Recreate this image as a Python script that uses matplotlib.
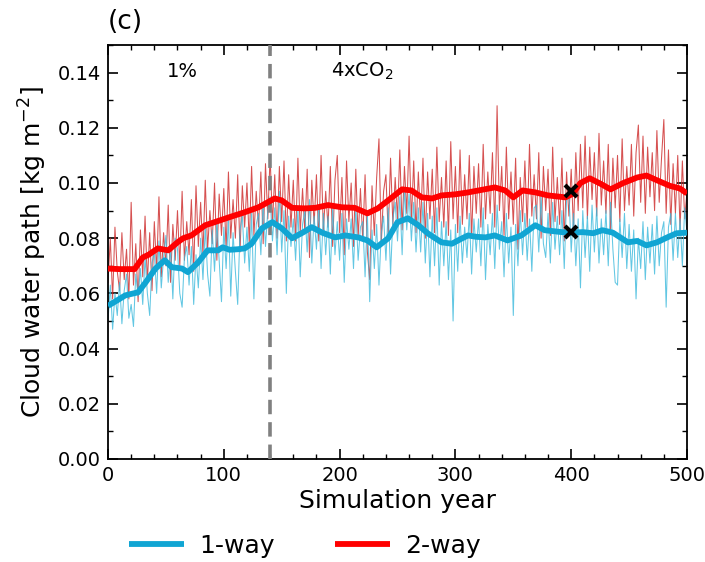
import numpy as np
import matplotlib
matplotlib.use("Agg")
import matplotlib.pyplot as plt
from matplotlib.ticker import MultipleLocator

# ---------------- data (cloud water path) ----------------
# annual values every 2 years, in g m^-2 (converted to kg m^-2 below)
years_annual = np.arange(0, 501, 2)

oneway_annual_g = [
    50, 63, 47, 60, 52,   64, 49, 61, 67, 51,   56, 48, 67, 59, 69,   56, 73, 60, 52, 71,
    75, 60, 79, 62, 73,   81, 64, 77, 58, 80,   76, 60, 55, 73, 77,   63, 77, 56, 74, 62,
    80, 65, 84, 67, 59,   83, 68, 86, 72, 57,   84, 69, 87, 59, 82,   68, 56, 83, 88, 71,
    84, 68, 89, 58, 85,   89, 74, 93, 77, 90,   95, 79, 91, 74, 97,   75, 90, 60, 88, 77,
    87, 72, 91, 66, 85,   90, 75, 94, 71, 88,   76, 92, 69, 89, 74,   88, 67, 91, 74, 86,
    72, 89, 64, 87, 76,   87, 69, 91, 72, 84,   86, 66, 89, 57, 83,   69, 85, 63, 82, 88,
    72, 91, 67, 87, 93,   79, 95, 74, 98, 83,   96, 79, 93, 75, 91,   75, 93, 71, 89, 66,
    88, 70, 91, 63, 86,   70, 86, 65, 83, 50,   85, 68, 88, 71, 84,   73, 89, 67, 87, 75,
    87, 70, 91, 65, 85,   74, 89, 69, 92, 76,   86, 66, 89, 71, 84,   52, 85, 70, 90, 74,
    89, 72, 87, 68, 91,   92, 75, 95, 78, 73,   89, 71, 93, 76, 88,   74, 90, 69, 94, 97,
    75, 89, 70, 87, 62,   90, 73, 88, 68, 92,   75, 91, 71, 87, 74,   90, 70, 93, 76, 64,
    63, 87, 73, 89, 69,   85, 68, 83, 58, 80,   69, 86, 65, 84, 71,   85, 67, 88, 70, 82,
    86, 55, 84, 89, 72,   89, 73, 87, 70, 91,   82,
]

twoway_annual_g = [
    64, 80, 58, 84, 68,   61, 82, 65, 76, 58,   93, 63, 78, 57, 83,   66, 88, 64, 82, 61,
    86, 68, 95, 66, 82,   70, 92, 64, 85, 72,   90, 70, 97, 72, 86,   74, 94, 68, 99, 77,
    93, 74, 101, 76, 90,  78, 100, 72, 96, 81,  98, 76, 104, 80, 94,  80, 103, 75, 99, 84,
    100, 78, 106, 81, 97, 84, 104, 78, 107, 87, 110, 85, 103, 80, 106, 86, 108, 79, 103, 84,
    101, 79, 109, 82, 98, 82, 105, 73, 101, 85, 103, 79, 110, 83, 97, 84, 106, 77, 101, 110,
    82, 102, 74, 108, 86, 100, 77, 105, 80, 98, 79, 103, 75, 65, 99,  81, 102, 116, 78, 97,
    103, 81, 109, 85, 102, 87, 112, 83, 106, 89, 117, 86, 108, 82, 104, 85, 109, 80, 104, 87,
    105, 82, 113, 86, 102, 84, 108, 81, 115, 87, 106, 82, 112, 85, 103, 87, 110, 80, 106, 89,
    107, 84, 114, 87, 104, 89, 111, 84, 128, 90, 106, 81, 113, 87, 104, 85, 109, 76, 102, 86,
    108, 84, 114, 88, 103, 87, 111, 80, 106, 90, 105, 81, 113, 86, 102, 85, 109, 79, 104, 88,
    105, 83, 111, 90, 114, 91, 117, 87, 113, 94, 111, 88, 118, 92, 108, 89, 114, 83, 109, 91,
    110, 86, 116, 90, 106, 92, 114, 88, 111, 121, 93, 117, 89, 113, 95, 111, 90, 119, 93, 109,
    123, 89, 112, 85, 107, 89, 110, 83, 108, 87, 97,
]

# running-mean curves (thick lines), read at selected years, kg m^-2
oneway_smooth_years = [0, 8, 15, 26, 32, 41, 49, 55, 64, 69, 78, 86, 95, 99, 105, 112, 118,
                       124, 133, 142, 150, 159, 168, 176, 185, 196, 205, 216, 224, 232, 242,
                       250, 259, 268, 276, 288, 297, 306, 311, 318, 326, 334, 345, 357, 369,
                       377, 392, 401, 410, 419, 427, 436, 449, 457, 465, 474, 483, 491, 500]
oneway_smooth = [0.0555, 0.0575, 0.0593, 0.0604, 0.0637, 0.0690, 0.0720, 0.0695, 0.0690,
                 0.0677, 0.0713, 0.0756, 0.0756, 0.0767, 0.0758, 0.0760, 0.0763, 0.0780,
                 0.0836, 0.0858, 0.0836, 0.0800, 0.0820, 0.0840, 0.0820, 0.0803, 0.0810,
                 0.0803, 0.0792, 0.0767, 0.0800, 0.0858, 0.0872, 0.0847, 0.0818, 0.0785,
                 0.0780, 0.0800, 0.0810, 0.0805, 0.0803, 0.0810, 0.0792, 0.0810, 0.0847,
                 0.0829, 0.0822, 0.0820, 0.0822, 0.0818, 0.0829, 0.0820, 0.0785, 0.0790,
                 0.0774, 0.0785, 0.0803, 0.0818, 0.0820]

twoway_smooth_years = [0, 10, 23, 30, 35, 43, 52, 60, 65, 72, 84, 92, 104, 118, 130, 144,
                       150, 159, 170, 179, 190, 202, 213, 224, 233, 242, 254, 262, 271, 280,
                       288, 300, 311, 320, 334, 343, 350, 358, 369, 380, 395, 401, 408, 416,
                       425, 434, 445, 457, 465, 474, 485, 494, 500]
twoway_smooth = [0.0690, 0.0688, 0.0688, 0.0730, 0.0740, 0.0763, 0.0756, 0.0785, 0.0800,
                 0.0810, 0.0847, 0.0858, 0.0875, 0.0894, 0.0912, 0.0944, 0.0937, 0.0910,
                 0.0908, 0.0910, 0.0920, 0.0912, 0.0910, 0.0890, 0.0908, 0.0937, 0.0977,
                 0.0973, 0.0948, 0.0944, 0.0955, 0.0959, 0.0966, 0.0973, 0.0984, 0.0973,
                 0.0948, 0.0973, 0.0966, 0.0955, 0.0948, 0.0960, 0.1000, 0.1017, 0.0998,
                 0.0977, 0.1000, 0.1020, 0.1027, 0.1010, 0.0990, 0.0980, 0.0962]

marker_year = 400
marker_values = [0.097, 0.0822]

transition_year = 140
phase_labels = ["1%", "4xCO$_2$"]
series_labels = ["1-way", "2-way"]

# ---------------- plot ----------------
blue_thick = "#10a5d3"
red_thick = "#ff0000"
blue_thin = "#3bb9dc"
red_thin = "#cc2626"

fig = plt.figure(figsize=(7.05, 5.62), dpi=100)
ax = fig.add_axes([108 / 705, 1 - 459 / 562, (687 - 108) / 705, (459 - 45) / 562])

oneway_annual = np.array(oneway_annual_g) / 1000.0
twoway_annual = np.array(twoway_annual_g) / 1000.0

ax.plot(years_annual, twoway_annual, color=red_thin, lw=0.75, alpha=0.8, zorder=2)
ax.plot(years_annual, oneway_annual, color=blue_thin, lw=0.75, alpha=0.8, zorder=2)

l1, = ax.plot(oneway_smooth_years, oneway_smooth, color=blue_thick, lw=4.2, zorder=4,
              solid_capstyle="butt", label=series_labels[0])
l2, = ax.plot(twoway_smooth_years, twoway_smooth, color=red_thick, lw=4.2, zorder=4,
              solid_capstyle="butt", label=series_labels[1])

ax.axvline(transition_year, color="#808080", lw=2.6, ls=(0, (4, 2.2)), zorder=3)

ax.plot([marker_year] * len(marker_values), marker_values, ls="none", marker="x",
        color="black", ms=9, mew=3, zorder=6)

ax.set_xlim(0, 500)
ax.set_ylim(0, 0.15)
ax.xaxis.set_major_locator(MultipleLocator(100))
ax.xaxis.set_minor_locator(MultipleLocator(20))
ax.set_yticks(np.arange(0, 0.141, 0.02))
ax.yaxis.set_minor_locator(MultipleLocator(0.01))
ax.tick_params(which="both", direction="in", top=True, right=True, labelsize=14)
ax.tick_params(which="major", length=7, width=1.2, pad=5)
ax.tick_params(which="minor", length=3.5, width=1.0)
for s in ax.spines.values():
    s.set_linewidth(1.3)

ax.set_xlabel("Simulation year", fontsize=18, labelpad=3)
ax.set_ylabel("Cloud water path [kg m$^{-2}$]", fontsize=18, labelpad=6)

ax.text(64, 0.1405, phase_labels[0], fontsize=14, ha="center", va="center")
ax.text(193, 0.1405, phase_labels[1], fontsize=14, ha="left", va="center")
fig.text(108 / 705, 1 - 22 / 562, "(c)", fontsize=19, ha="left", va="center")

fig.legend(handles=[l1, l2], labels=series_labels, loc="center",
           bbox_to_anchor=(305 / 705, 1 - 546 / 562), ncol=2, frameon=False,
           fontsize=18, handlelength=2.2, columnspacing=2.4, handletextpad=0.6)

fig.savefig("out.png", dpi=100)
